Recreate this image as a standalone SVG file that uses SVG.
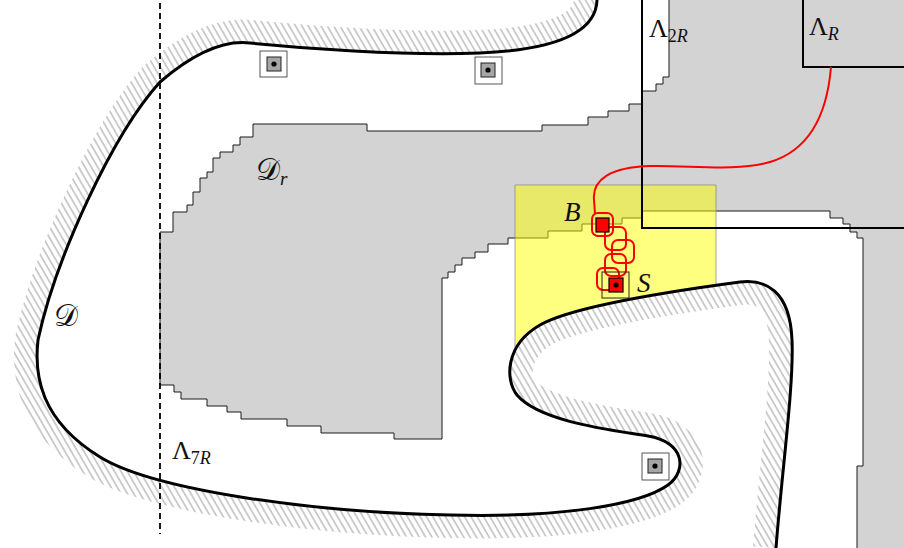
<svg xmlns="http://www.w3.org/2000/svg" width="904" height="548" viewBox="0 0 904 548">
<style>
.lbl{font-family:"Liberation Serif","DejaVu Serif",serif;fill:#111}
.it{font-style:italic}
.box{fill:none;stroke:#000;stroke-width:2}
.icon-out{fill:#fff;stroke:#444;stroke-width:0.9}
.icon-in{fill:#a6a6a6;stroke:#222;stroke-width:1}
.walk{fill:none;stroke:#f00;stroke-width:2}
.dot{fill:#000}
</style>
<defs>
<pattern id="hatch" width="5.5" height="10" patternUnits="userSpaceOnUse" patternTransform="rotate(-30)">
<line x1="1" y1="-1" x2="1" y2="11" stroke="#b4b4b4" stroke-width="1.3"/>
</pattern>
<clipPath id="ext">
<path d="M597,0 C596,35 550,50 480,53 C400,56 300,48 250,43 C225,40 195,52 160,82 C112,135 55,260 38,340 C34,375 40,420 100,457 C150,488 300,512 450,515 C560,518 640,505 668,485 C688,470 684,442 648,436 C612,430 540,422 517,395 C505,380 505,345 540,325 C575,305 680,290 740,282 C765,279 790,290 792,340 C794,385 782,470 776,548 L0,548 L0,0 Z"/>
</clipPath>
</defs>
<rect width="904" height="548" fill="#fff"/>

<g id="region-Dr">
<polygon points="160,232 173,232 173,212 187,212 187,205 193,205 193,192 200,192 200,178 207,178 207,172 213,172 213,158 220,158 220,152 233,152 233,145 240,145 240,137 253,137 253,124 367,124 367,131 542,131 542,125 588,125 588,117 608,117 608,111 629,111 629,104 642,104 642,91 656,91 656,84 663,84 663,77 669,77 669,-5 910,-5 910,553 857,553 857,466 863,466 863,238 857,238 857,232 850,232 850,224 843,224 843,218 830,218 830,211 642,211 642,218 622,218 622,224 582,224 582,231 548,231 548,238 508,238 508,244 488,244 488,252 475,252 475,258 462,258 462,265 455,265 455,272 448,272 448,278 442,278 442,439 394,439 394,433 321,433 321,426 287,426 287,419 241,419 241,412 227,412 227,406 207,406 207,399 181,399 181,392 174,392 174,385 160,385" fill="#d3d3d3" stroke="#1a1a1a" stroke-width="1"/>
</g>

<g id="box-S-yellow">
<path d="M515,350 V185 H716 V285.3 C655.8,293.7 570.8,307.4 540,325 C527.75,332 519.8,340.8 515,350 Z" fill="#ffff00" fill-opacity="0.5"/>
<path d="M515,350 V185 H716 V285.3" fill="none" stroke="#808080" stroke-opacity="0.7" stroke-width="1"/>
</g>

<g id="region-D">
<path clip-path="url(#ext)" d="M597,0 C596,35 550,50 480,53 C400,56 300,48 250,43 C225,40 195,52 160,82 C112,135 55,260 38,340 C34,375 40,420 100,457 C150,488 300,512 450,515 C560,518 640,505 668,485 C688,470 684,442 648,436 C612,430 540,422 517,395 C505,380 505,345 540,325 C575,305 680,290 740,282 C765,279 790,290 792,340 C794,385 782,470 776,548" fill="none" stroke="url(#hatch)" stroke-width="46"/>
<path d="M597,0 C596,35 550,50 480,53 C400,56 300,48 250,43 C225,40 195,52 160,82 C112,135 55,260 38,340 C34,375 40,420 100,457 C150,488 300,512 450,515 C560,518 640,505 668,485 C688,470 684,442 648,436 C612,430 540,422 517,395 C505,380 505,345 540,325 C575,305 680,290 740,282 C765,279 790,290 792,340 C794,385 782,470 776,548" fill="none" stroke="#000" stroke-width="3"/>
</g>

<g id="box-7R">
<line x1="160" y1="3" x2="160" y2="534" stroke="#000" stroke-width="1.8" stroke-dasharray="6,4"/>
</g>
<g id="box-2R">
<path class="box" d="M642,0 V228 H904"/>
</g>
<g id="box-R">
<path class="box" d="M803,0 V67 H904"/>
</g>

<g id="connectors">
<path class="walk" d="M831,67 C827,115 810,150 770,162 C735,172 690,165 650,166 C610,167 592,180 594,200 L595,214"/>
<rect class="walk" x="592" y="213" width="21" height="23" rx="6"/>
<rect class="walk" x="605" y="227" width="21" height="23" rx="6"/>
<rect class="walk" x="612" y="240" width="22" height="23" rx="6"/>
<rect class="walk" x="605" y="254" width="21" height="22" rx="6"/>
<rect class="walk" x="597" y="268" width="22" height="22" rx="6"/>
</g>

<g id="node-B">
<rect x="596" y="218" width="13" height="14" fill="#f00" stroke="#000" stroke-width="1.2"/>
</g>
<g id="node-S">
<rect x="602" y="272" width="27" height="26" fill="none" stroke="#222" stroke-width="1"/>
<rect x="609" y="278" width="14" height="14" fill="#f00" stroke="#000" stroke-width="1.2"/>
<circle class="dot" cx="616" cy="285" r="2.6"/>
</g>
<g id="icon-1">
<rect class="icon-out" x="260" y="51" width="27" height="26"/>
<rect class="icon-in" x="267" y="57" width="14" height="14"/>
<circle class="dot" cx="274" cy="64" r="2.6"/>
</g>
<g id="icon-2">
<rect class="icon-out" x="475" y="57" width="27" height="27"/>
<rect class="icon-in" x="481" y="63" width="14" height="14"/>
<circle class="dot" cx="488" cy="70" r="2.6"/>
</g>
<g id="icon-3">
<rect class="icon-out" x="642" y="453" width="27" height="27"/>
<rect class="icon-in" x="648" y="459" width="14" height="14"/>
<circle class="dot" cx="655" cy="466" r="2.6"/>
</g>

<g id="labels">
<text class="lbl" x="54" y="326" font-size="30">𝒟</text>
<text class="lbl" x="256" y="180" font-size="30">𝒟<tspan class="it" font-size="19" dy="5">r</tspan></text>
<text class="lbl" x="172" y="459" font-size="26">Λ<tspan font-size="18" dy="5">7</tspan><tspan class="it" font-size="18">R</tspan></text>
<text class="lbl" x="649" y="37" font-size="26">Λ<tspan font-size="18" dy="5">2</tspan><tspan class="it" font-size="18">R</tspan></text>
<text class="lbl" x="809" y="35" font-size="26">Λ<tspan class="it" font-size="18" dy="5">R</tspan></text>
<text class="lbl it" x="564" y="221" font-size="27">B</text>
<text class="lbl it" x="637" y="292" font-size="27">S</text>
</g>
</svg>
